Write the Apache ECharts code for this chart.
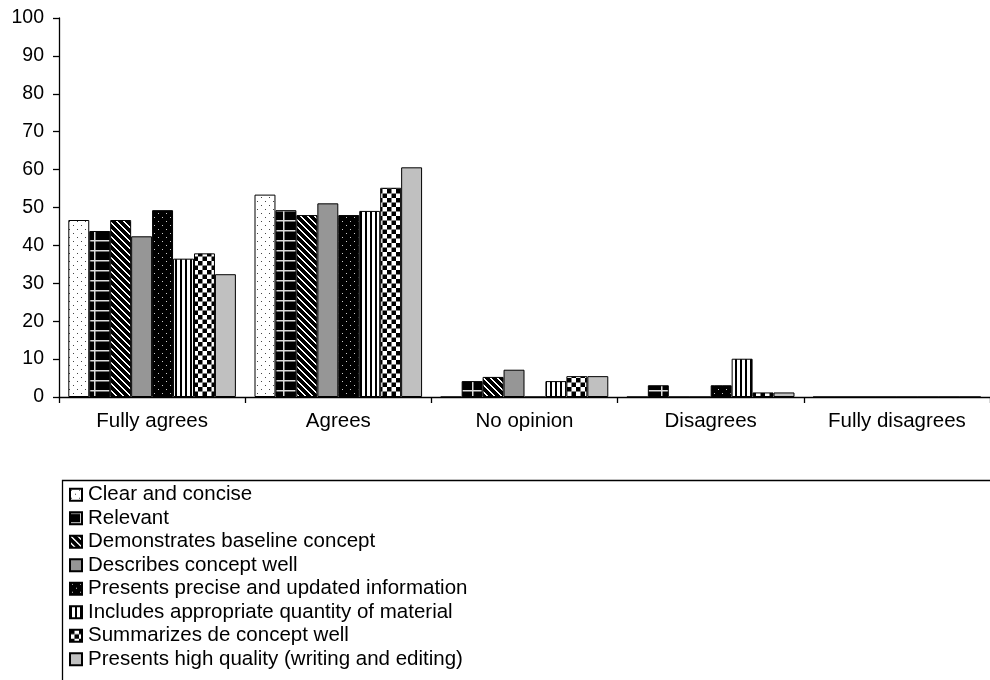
<!DOCTYPE html>
<html>
<head>
<meta charset="utf-8">
<script src="https://cdn.jsdelivr.net/npm/echarts@6/dist/echarts.min.js"></script>
<style>html,body{margin:0;padding:0;background:#fff;}#c{width:990px;height:680px;}</style>
</head>
<body>
<div id="c"></div>
<script>
var categories = ['Fully agrees', 'Agrees', 'No opinion', 'Disagrees', 'Fully disagrees'];
var yTicks = [0, 10, 20, 30, 40, 50, 60, 70, 80, 90, 100];
var seriesNames = [
  'Clear and concise',
  'Relevant',
  'Demonstrates baseline concept',
  'Describes concept well',
  'Presents precise and updated information',
  'Includes appropriate quantity of material',
  'Summarizes de concept well',
  'Presents high quality (writing and editing)'
];
var clearConcise   = [46.7, 53.4, 0,   0,    0];
var relevant       = [43.8, 49.3, 4.2, 3.1,  0];
var demonstrates   = [46.7, 48.0, 5.3, 0,    0];
var describesWell  = [42.4, 51.1, 7.2, 0,    0];
var presentsPrecise= [49.3, 48.0, 0,   3.1,  0];
var includesQty    = [36.5, 49.1, 4.2, 10.1, 0];
var summarizes     = [37.9, 55.2, 5.5, 1.2,  0];
var highQuality    = [32.4, 60.6, 5.5, 1.2,  0];
var seriesValues = [clearConcise, relevant, demonstrates, describesWell, presentsPrecise, includesQty, summarizes, highQuality];

function tile(w, h, draw) {
  var c = document.createElement('canvas');
  c.width = w; c.height = h;
  var ctx = c.getContext('2d');
  draw(ctx, w, h);
  return { image: c, repeat: 'repeat' };
}
var fills = [
  tile(8, 8, function (g, w, h) { g.fillStyle = '#fff'; g.fillRect(0, 0, w, h); g.fillStyle = '#444'; g.fillRect(1, 1, 1, 1); g.fillRect(5, 5, 1, 1); }),
  tile(21, 10, function (g, w, h) { g.fillStyle = '#000'; g.fillRect(0, 0, w, h); g.fillStyle = '#ddd'; g.fillRect(0, 0, w, 1.5); g.fillRect(10, 0, 1.5, h); }),
  tile(7, 7, function (g, w, h) { g.fillStyle = '#000'; g.fillRect(0, 0, w, h); g.fillStyle = '#fff';
    for (var x = 0; x < w; x++) for (var y = 0; y < h; y++) { var d = ((x - y) % 7 + 7) % 7; if (d < 2) g.fillRect(x, y, 1, 1); } }),
  '#969696',
  tile(8, 8, function (g, w, h) { g.fillStyle = '#000'; g.fillRect(0, 0, w, h); g.fillStyle = '#ccc'; g.fillRect(2, 1, 1, 1); g.fillRect(6, 5, 1, 1); }),
  tile(5, 4, function (g, w, h) { g.fillStyle = '#fff'; g.fillRect(0, 0, w, h); g.fillStyle = '#000'; g.fillRect(0, 0, 2, h); }),
  tile(9, 9, function (g, w, h) { g.fillStyle = '#fff'; g.fillRect(0, 0, w, h); g.fillStyle = '#000'; g.fillRect(0, 0, 4.5, 4.5); g.fillRect(4.5, 4.5, 4.5, 4.5); }),
  '#c0c0c0'
];

var series = seriesNames.map(function (n, i) {
  return {
    name: n, type: 'bar', data: seriesValues[i],
    barGap: '0%', barCategoryGap: '10%',
    itemStyle: { color: fills[i], borderColor: '#000', borderWidth: 1 },
    emphasis: { disabled: true }
  };
});

var chart = echarts.init(document.getElementById('c'), null, { renderer: 'canvas' });
chart.setOption({
  animation: false,
  backgroundColor: '#fff',
  textStyle: { fontFamily: 'Liberation Sans, Arial, sans-serif', color: '#000' },
  grid: { left: 59, right: -7, top: 18, bottom: 283, containLabel: false },
  xAxis: {
    type: 'category', data: categories,
    axisLine: { lineStyle: { color: '#000', width: 1.3 } },
    axisTick: { show: true, length: 6, lineStyle: { color: '#000', width: 1.3 } },
    axisLabel: { color: '#000', fontSize: 20.5, margin: 14, fontFamily: 'Liberation Sans' },
    splitLine: { show: false }
  },
  yAxis: {
    type: 'value', min: yTicks[0], max: yTicks[yTicks.length - 1], interval: 10,
    axisLine: { show: true, lineStyle: { color: '#000', width: 1.3 } },
    axisTick: { show: true, length: 6, lineStyle: { color: '#000', width: 1.3 } },
    axisLabel: { color: '#000', fontSize: 19.5, margin: 15, fontFamily: 'Liberation Sans' },
    splitLine: { show: false }
  },
  graphic: [{
    type: 'rect', left: 60, top: 478,
    shape: { width: 1000, height: 300 },
    style: { fill: 'none', stroke: '#000', lineWidth: 1.3 },
    silent: true
  }],
  legend: {
    orient: 'vertical', left: 64, top: 478,
    itemWidth: 12, itemHeight: 12, itemGap: 0,
    icon: 'rect', selectedMode: false,
    data: seriesNames,
    textStyle: { fontSize: 20.5, color: '#000', lineHeight: 23.5, fontFamily: 'Liberation Sans', padding: [0, 0, 0, 1] }
  },
  series: series
});
</script>
</body>
</html>
